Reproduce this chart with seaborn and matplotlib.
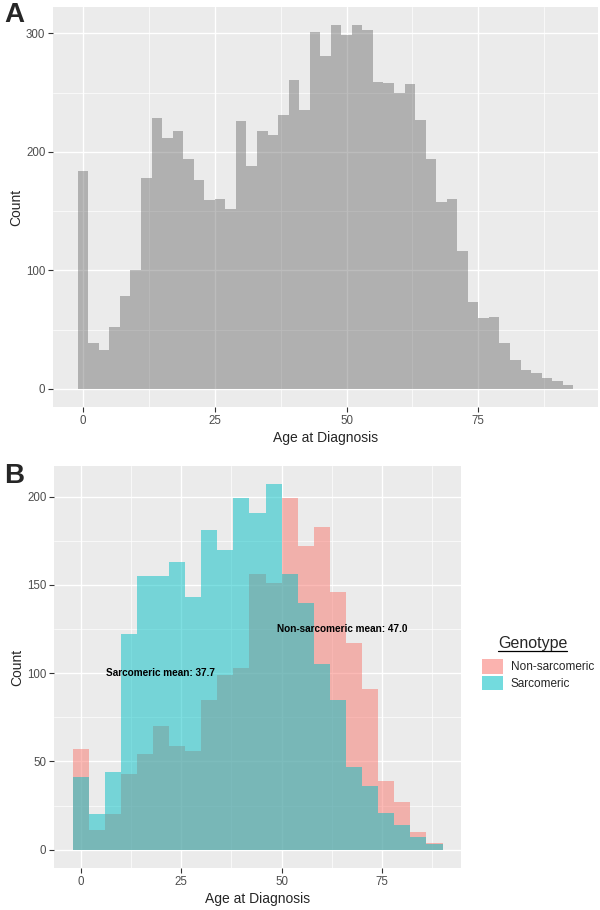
import matplotlib
matplotlib.use("Agg")
import matplotlib.pyplot as plt
from matplotlib.lines import Line2D
from matplotlib.patches import Patch
from matplotlib.ticker import MultipleLocator
import pandas as pd
import seaborn as sns

# panel A: all patients, 2-year bins centred on even ages
AGE_A = list(range(0, 94, 2))
COUNT_A = [184, 39, 33, 52, 78, 100, 178, 229, 212, 218,
           194, 176, 159, 160, 152, 226, 188, 218, 214, 231,
           261, 235, 301, 281, 307, 299, 307, 303, 259, 258,
           250, 257, 227, 194, 158, 160, 116, 73, 60, 61,
           39, 24, 16, 13, 9, 7, 3]

# panel B: by genotype, 4-year bins centred on multiples of 4
AGE_B = list(range(0, 92, 4))
NON_SARC = [57, 11, 20, 43, 54, 70, 59, 56, 85, 99, 103, 156,
            151, 199, 172, 183, 146, 117, 91, 39, 27, 10, 4]
SARC = [41, 20, 44, 122, 155, 155, 163, 143, 181, 170, 199, 191,
        207, 156, 140, 105, 85, 47, 36, 21, 14, 7, 3]
GENOTYPES = ["Non-sarcomeric", "Sarcomeric"]
MEANS = {"Sarcomeric": 37.7, "Non-sarcomeric": 47.0}
LABEL_POS = {"Sarcomeric": (20, 100), "Non-sarcomeric": (65, 125)}

COLORS = {"Non-sarcomeric": "#F8766D", "Sarcomeric": "#00BFC4"}

sns.set_theme(style="darkgrid", rc={
    "axes.facecolor": "#EBEBEB",
    "figure.facecolor": "white",
    "grid.color": "white",
})
plt.rcParams["font.family"] = ["Liberation Sans", "DejaVu Sans"]


def expand(lo, hi, frac=0.05):
    pad = (hi - lo) * frac
    return lo - pad, hi + pad


def style_axis(ax, ymajor, yminor):
    ax.set_axisbelow(True)
    ax.xaxis.set_major_locator(MultipleLocator(25))
    ax.xaxis.set_minor_locator(MultipleLocator(12.5))
    ax.yaxis.set_major_locator(MultipleLocator(ymajor))
    ax.yaxis.set_minor_locator(MultipleLocator(yminor))
    ax.grid(which="major", color="white", linewidth=1.0)
    ax.grid(which="minor", color="white", linewidth=0.5)
    ax.tick_params(which="major", length=3.5, width=0.8, color="#333333",
                   labelcolor="#4D4D4D", labelsize=8.3, pad=2,
                   bottom=True, left=True)
    ax.tick_params(which="minor", length=0)
    for s in ax.spines.values():
        s.set_visible(False)
    ax.set_xlabel("Age at Diagnosis", fontsize=10, labelpad=3)
    ax.set_ylabel("Count", fontsize=10, labelpad=2)


fig = plt.figure(figsize=(6, 9.1), dpi=100)
W, H = 600, 910
axA = fig.add_axes([53 / W, 1 - 407 / H, 545 / W, 400 / H])
axB = fig.add_axes([54 / W, 1 - 868 / H, 407 / W, 402 / H])

# ---- panel A
dfa = pd.DataFrame({"age": AGE_A, "count": COUNT_A})
edges_a = [a - 1 for a in AGE_A] + [AGE_A[-1] + 1]
sns.histplot(data=dfa, x="age", weights="count", bins=edges_a, color="#595959",
             alpha=0.4, linewidth=0, ax=axA)
axA.set_xlim(*expand(edges_a[0], edges_a[-1]))
axA.set_ylim(*expand(0, max(COUNT_A)))
style_axis(axA, 100, 50)

# ---- panel B
df = pd.DataFrame({
    "age": AGE_B * 2,
    "count": NON_SARC + SARC,
    "Genotype": ["Non-sarcomeric"] * len(AGE_B) + ["Sarcomeric"] * len(AGE_B),
})
edges_b = [a - 2 for a in AGE_B] + [AGE_B[-1] + 2]
for g in GENOTYPES:
    sub = df[df["Genotype"] == g]
    sns.histplot(data=sub, x="age", weights="count", bins=edges_b,
                 color=COLORS[g], alpha=0.5, linewidth=0, ax=axB)
axB.set_xlim(*expand(edges_b[0], edges_b[-1]))
axB.set_ylim(*expand(0, max(NON_SARC + SARC)))
style_axis(axB, 50, 25)

for g in ["Sarcomeric", "Non-sarcomeric"]:
    x, y = LABEL_POS[g]
    axB.text(x, y, f"{g} mean: {MEANS[g]:.1f}", ha="center", va="center",
             fontsize=7.2, fontweight="bold", color="black")

# legend
handles = [Patch(facecolor=COLORS[g], alpha=0.55, edgecolor="none") for g in GENOTYPES]
fig.legend(handles, GENOTYPES, loc="upper left",
           bbox_to_anchor=(481.5 / W, 1 - 659 / H), frameon=False,
           fontsize=8.5, borderpad=0, borderaxespad=0,
           handlelength=1.78, handleheight=1.55, labelspacing=0.15,
           handletextpad=0.7)
title = fig.text(498 / W, 1 - 648 / H, "Genotype", fontsize=11.5, va="baseline",
                 ha="left")
fig.canvas.draw()
bb = title.get_window_extent()
fig.add_artist(Line2D([bb.x0 / W, bb.x1 / W], [1 - 650.5 / H] * 2,
                      color="black", linewidth=0.9))

# panel letters
fig.text(4 / W, 1 - 2 / H, "A", fontsize=20, fontweight="bold", va="top")
fig.text(4 / W, 1 - 463 / H, "B", fontsize=20, fontweight="bold", va="top")

fig.savefig("out.png", dpi=100)
